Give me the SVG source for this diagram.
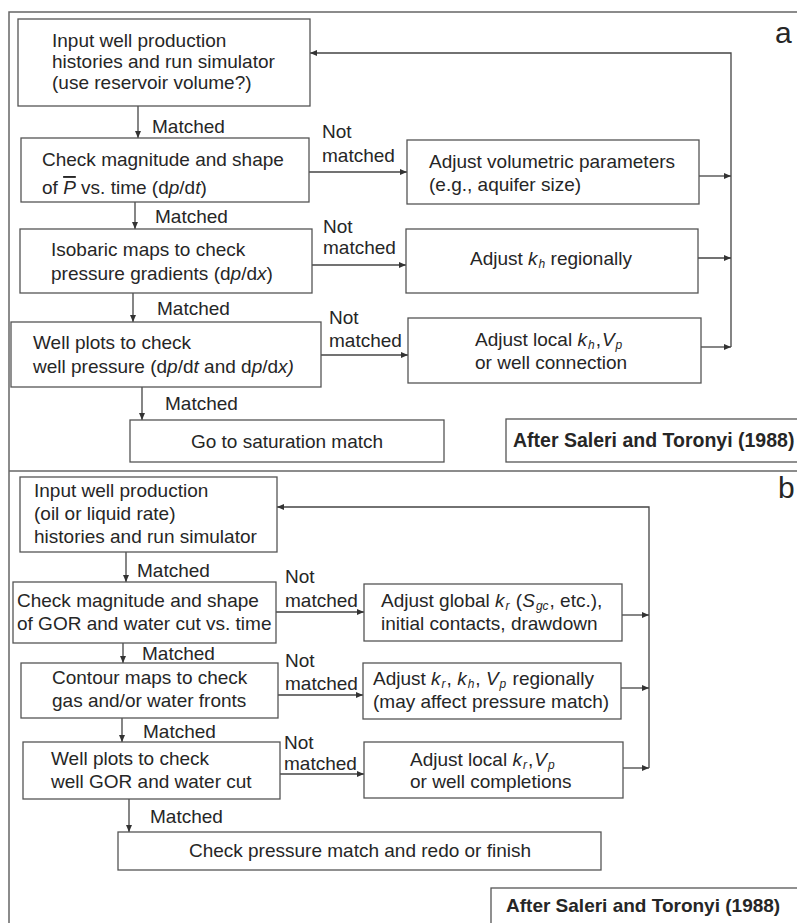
<svg xmlns="http://www.w3.org/2000/svg" width="797" height="923" viewBox="0 0 797 923">
<style>
text{font-family:"Liberation Sans",Arial,Helvetica,sans-serif;font-size:19px;fill:#262626}
.b{font-weight:bold}
.i{font-style:italic}
.s{font-size:12px;font-style:italic}
.lab{font-size:30px}
.box{fill:#fff;stroke:#555;stroke-width:1.3}
.ln{fill:none;stroke:#444;stroke-width:1.3}
.fr{fill:none;stroke:#666;stroke-width:1.5}
.m{text-anchor:middle}
</style>
<defs>
<marker id="ah" markerUnits="userSpaceOnUse" markerWidth="8" markerHeight="6" refX="7" refY="3" orient="auto">
<path d="M0,0 L7,3 L0,6 Z" fill="#333"/>
</marker>
</defs>
<rect x="0" y="0" width="797" height="923" fill="#fff"/>
<g id="frame">
<path class="fr" d="M9,923 V12 H797"/>
<path class="fr" d="M9,471 H797"/>
<text class="lab" x="775" y="43">a</text>
<text class="lab" x="778" y="498">b</text>
</g>
<g id="connectors">
<path class="ln" marker-end="url(#ah)" d="M138,106 V138"/>
<path class="ln" marker-end="url(#ah)" d="M309,172 H407"/>
<path class="ln" marker-end="url(#ah)" d="M699,176 H731"/>
<path class="ln" marker-end="url(#ah)" d="M731,347 V53 H310"/>
<path class="ln" marker-end="url(#ah)" d="M135,202 V229"/>
<path class="ln" marker-end="url(#ah)" d="M312,265 H406"/>
<path class="ln" marker-end="url(#ah)" d="M698,258 H731"/>
<path class="ln" marker-end="url(#ah)" d="M133,293 V322"/>
<path class="ln" marker-end="url(#ah)" d="M321,355 H408"/>
<path class="ln" marker-end="url(#ah)" d="M701,347 H731"/>
<path class="ln" marker-end="url(#ah)" d="M142,387 V420"/>
<path class="ln" marker-end="url(#ah)" d="M649,768 V507 H277"/>
<path class="ln" marker-end="url(#ah)" d="M126,552 V582"/>
<path class="ln" marker-end="url(#ah)" d="M276,612 H364"/>
<path class="ln" marker-end="url(#ah)" d="M622,615 H649"/>
<path class="ln" marker-end="url(#ah)" d="M123,643 V663"/>
<path class="ln" marker-end="url(#ah)" d="M278,695 H363"/>
<path class="ln" marker-end="url(#ah)" d="M621,688 H649"/>
<path class="ln" marker-end="url(#ah)" d="M122,718 V742"/>
<path class="ln" marker-end="url(#ah)" d="M280,774 H364"/>
<path class="ln" marker-end="url(#ah)" d="M623,768 H649"/>
<path class="ln" marker-end="url(#ah)" d="M129,799 V832"/>
<text x="152" y="133">Matched</text>
<text x="155" y="223">Matched</text>
<text x="157" y="315">Matched</text>
<text x="165" y="410">Matched</text>
<text x="322" y="138">Not</text><text x="322" y="162">matched</text>
<text x="323" y="233">Not</text><text x="323" y="254">matched</text>
<text x="329" y="324">Not</text><text x="329" y="347">matched</text>
<text x="137" y="577">Matched</text>
<text x="142" y="660">Matched</text>
<text x="143" y="738">Matched</text>
<text x="150" y="823">Matched</text>
<text x="285" y="583">Not</text><text x="285" y="607">matched</text>
<text x="285" y="667">Not</text><text x="285" y="690">matched</text>
<text x="284" y="749">Not</text><text x="284" y="770">matched</text>
</g>
<g id="a1">
<rect class="box" x="18" y="19" width="292" height="87"/>
<text x="52" y="47">Input well production</text>
<text x="52" y="68">histories and run simulator</text>
<text x="52" y="89">(use reservoir volume?)</text>
</g>
<g id="a2">
<rect class="box" x="21" y="138" width="288" height="64"/>
<text x="42" y="166">Check magnitude and shape</text>
<text x="42" y="194">of <tspan class="i" text-decoration="overline">P</tspan> vs. time (d<tspan class="i">p</tspan>/d<tspan class="i">t</tspan>)</text>
</g>
<g id="a2r">
<rect class="box" x="407" y="140" width="292" height="64"/>
<text x="429" y="168">Adjust volumetric parameters</text>
<text x="429" y="191">(e.g., aquifer size)</text>
</g>
<g id="a3">
<rect class="box" x="20" y="229" width="292" height="64"/>
<text x="51" y="256">Isobaric maps to check</text>
<text x="51" y="280">pressure gradients (d<tspan class="i">p</tspan>/d<tspan class="i">x</tspan>)</text>
</g>
<g id="a3r">
<rect class="box" x="406" y="229" width="292" height="64"/>
<text x="470" y="265">Adjust <tspan class="i">k</tspan><tspan class="s" dx="1" dy="3">h</tspan><tspan dy="-3"> regionally</tspan></text>
</g>
<g id="a4">
<rect class="box" x="11" y="322" width="310" height="65"/>
<text x="33" y="349">Well plots to check</text>
<text x="33" y="373">well pressure (d<tspan class="i">p</tspan>/d<tspan class="i">t</tspan> and d<tspan class="i">p</tspan>/d<tspan class="i">x)</tspan></text>
</g>
<g id="a4r">
<rect class="box" x="408" y="318" width="293" height="65"/>
<text x="475" y="346">Adjust local <tspan class="i">k</tspan><tspan class="s" dx="1" dy="3">h</tspan><tspan dx="1" dy="-3">,</tspan><tspan class="i" dx="1">V</tspan><tspan class="s" dx="1" dy="3">p</tspan></text>
<text x="475" y="369">or well connection</text>
</g>
<g id="a5">
<rect class="box" x="130" y="420" width="314" height="42"/>
<text class="m" x="287" y="448">Go to saturation match</text>
</g>
<g id="a-credit">
<rect class="box" x="506" y="419" width="300" height="43"/>
<text class="b" x="513" y="447" style="font-size:19.5px">After Saleri and Toronyi (1988)</text>
</g>
<g id="b1">
<rect class="box" x="20" y="477" width="257" height="75"/>
<text x="34" y="497">Input well production</text>
<text x="34" y="520">(oil or liquid rate)</text>
<text x="34" y="543">histories and run simulator</text>
</g>
<g id="b2">
<rect class="box" x="13" y="582" width="263" height="61"/>
<text x="17" y="607">Check magnitude and shape</text>
<text x="17" y="630">of GOR and water cut vs. time</text>
</g>
<g id="b2r">
<rect class="box" x="364" y="584" width="258" height="57"/>
<text x="381" y="607">Adjust global <tspan class="i">k</tspan><tspan class="s" dx="1" dy="3">r</tspan><tspan dx="1" dy="-3"> (</tspan><tspan class="i">S</tspan><tspan class="s" dx="1" dy="3">gc</tspan><tspan dx="1" dy="-3">, etc.),</tspan></text>
<text x="381" y="630">initial contacts, drawdown</text>
</g>
<g id="b3">
<rect class="box" x="21" y="663" width="257" height="55"/>
<text x="52" y="684">Contour maps to check</text>
<text x="52" y="707">gas and/or water fronts</text>
</g>
<g id="b3r">
<rect class="box" x="363" y="663" width="258" height="56"/>
<text x="373" y="685">Adjust <tspan class="i">k</tspan><tspan class="s" dx="1" dy="3">r</tspan><tspan dx="1" dy="-3">, </tspan><tspan class="i">k</tspan><tspan class="s" dx="1" dy="3">h</tspan><tspan dx="1" dy="-3">, </tspan><tspan class="i">V</tspan><tspan class="s" dx="1" dy="3">p</tspan><tspan dx="1" dy="-3"> regionally</tspan></text>
<text x="373" y="708">(may affect pressure match)</text>
</g>
<g id="b4">
<rect class="box" x="23" y="742" width="257" height="57"/>
<text x="51" y="765">Well plots to check</text>
<text x="51" y="788">well GOR and water cut</text>
</g>
<g id="b4r">
<rect class="box" x="364" y="742" width="259" height="56"/>
<text x="410" y="766">Adjust local <tspan class="i">k</tspan><tspan class="s" dx="1" dy="3">r</tspan><tspan dx="1" dy="-3">,</tspan><tspan class="i" dx="1">V</tspan><tspan class="s" dx="1" dy="3">p</tspan></text>
<text x="410" y="788">or well completions</text>
</g>
<g id="b5">
<rect class="box" x="118" y="832" width="483" height="38"/>
<text class="m" x="360" y="857">Check pressure match and redo or finish</text>
</g>
<g id="b-credit">
<rect class="box" x="491" y="888" width="320" height="50"/>
<text class="b" x="506" y="912">After Saleri and Toronyi (1988)</text>
</g>
</svg>
